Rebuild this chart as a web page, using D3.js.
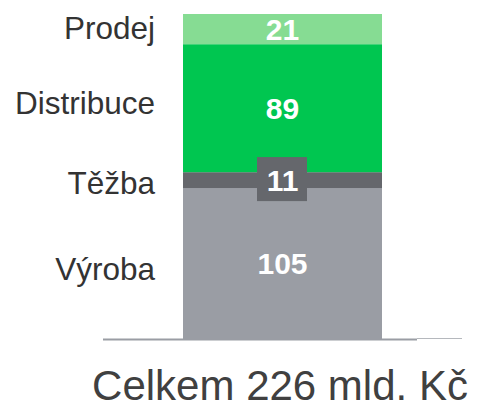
<!DOCTYPE html>
<html>
<head>
<meta charset="utf-8">
<script src="https://cdn.jsdelivr.net/npm/d3@7"></script>
<style>
  body { margin: 0; background: #fff; }
  text { font-family: Arial, "Liberation Sans", sans-serif; }
</style>
</head>
<body>
<svg width="477" height="412"></svg>
<script>
  // segments bottom -> top
  var categories = ["Výroba", "Těžba", "Distribuce", "Prodej"];
  var values = [105, 11, 89, 21];
  var colors = ["#9a9da4", "#65676c", "#00c650", "#86dc93"];
  var totalLabel = "Celkem 226 mld. Kč";

  var svg = d3.select("svg");
  var total = d3.sum(values);

  var y = d3.scaleLinear().domain([0, total]).range([339, 14]);

  var stacked = [];
  var acc = 0;
  values.forEach(function(v, i) {
    stacked.push({ name: categories[i], value: v, y0: acc, y1: acc + v, color: colors[i] });
    acc += v;
  });

  var bx = 183, bw = 199;
  // category labels are spread a bit so they don't crowd
  var nudge = [5, 3, -6, -1];

  svg.selectAll("rect.seg")
    .data(stacked)
    .enter()
    .append("rect")
    .attr("class", "seg")
    .attr("x", bx)
    .attr("width", bw)
    .attr("y", function(d) { return y(d.y1); })
    .attr("height", function(d) { return y(d.y0) - y(d.y1); })
    .style("fill", function(d) { return d.color; });

  // small segment gets a box behind its label
  var small = stacked[1];
  var mid = (y(small.y0) + y(small.y1)) / 2;
  svg.append("rect")
    .attr("x", 257).attr("width", 50)
    .attr("y", mid - 23).attr("height", 44)
    .style("fill", small.color);

  svg.selectAll("text.val")
    .data(stacked)
    .enter()
    .append("text")
    .attr("class", "val")
    .attr("x", bx + bw / 2)
    .attr("y", function(d) { return (y(d.y0) + y(d.y1)) / 2; })
    .attr("dy", "0.36em")
    .attr("text-anchor", "middle")
    .attr("font-size", "30px")
    .attr("font-weight", "bold")
    .attr("fill", "#fff")
    .text(function(d) { return d.value; });

  svg.selectAll("text.cat")
    .data(stacked)
    .enter()
    .append("text")
    .attr("class", "cat")
    .attr("x", 155)
    .attr("y", function(d, i) { return (y(d.y0) + y(d.y1)) / 2 + nudge[i]; })
    .attr("dy", "0.36em")
    .attr("text-anchor", "end")
    .attr("font-size", "31.5px")
    .attr("fill", "#333")
    .text(function(d) { return d.name; });

  // baseline
  svg.append("line")
    .attr("x1", 103).attr("x2", 417)
    .attr("y1", 339.5).attr("y2", 339.5)
    .style("stroke", "#9a9da4").style("stroke-width", 2);
  svg.append("line")
    .attr("x1", 417).attr("x2", 462)
    .attr("y1", 338.5).attr("y2", 338.5)
    .style("stroke", "#b5b8bd").style("stroke-width", 1);

  svg.append("text")
    .attr("x", 280)
    .attr("y", 400)
    .attr("text-anchor", "middle")
    .attr("font-size", "42px")
    .attr("fill", "#404040")
    .text(totalLabel);
</script>
</body>
</html>
